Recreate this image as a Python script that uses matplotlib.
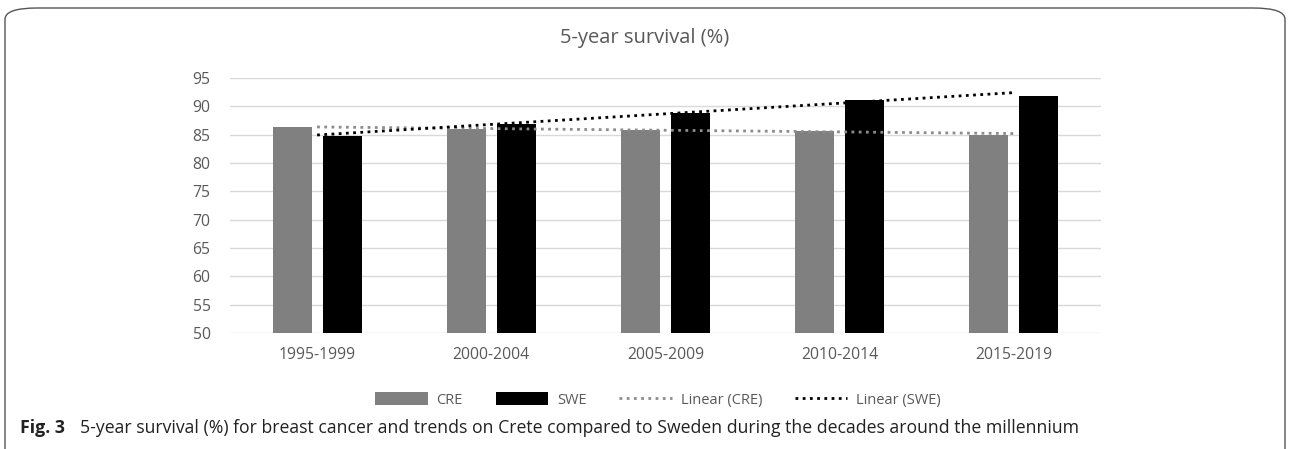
import numpy as np
import matplotlib
matplotlib.use("Agg")
import matplotlib.pyplot as plt
from matplotlib.patches import FancyBboxPatch
from matplotlib.lines import Line2D
from matplotlib.patches import Patch

categories = ["1995-1999", "2000-2004", "2005-2009", "2010-2014", "2015-2019"]
cre = [86.3, 86.0, 85.9, 85.7, 85.0]
swe = [84.7, 86.8, 88.9, 91.1, 91.9]
yticks = [50, 55, 60, 65, 70, 75, 80, 85, 90, 95]

plt.rcParams['font.family'] = ['Open Sans', 'DejaVu Sans']

fig = plt.figure(figsize=(12.9, 4.49), dpi=100)
ax = fig.add_axes([230/1290, 1-333/449, 871/1290, 255/449])

x = np.arange(len(categories))
w = 0.224
off = 0.1435
ax.bar(x - off, cre, w, color="#808080", zorder=3, label="CRE")
ax.bar(x + off, swe, w, color="#000000", zorder=3, label="SWE")

# linear trend lines
pc = np.polyfit(x, cre, 1)
ps = np.polyfit(x, swe, 1)
ax.plot(x, np.polyval(pc, x), color="#8c8c8c", lw=2, ls=(0, (1, 1.6)), zorder=4)
ax.plot(x, np.polyval(ps, x), color="#000000", lw=2, ls=(0, (1, 1.6)), zorder=4)

ax.set_ylim(50, 95)
ax.set_xlim(-0.5, 4.5)
ax.set_yticks(yticks)
ax.set_xticks(x)
ax.set_xticklabels(categories)
ax.yaxis.grid(True, color="#d9d9d9", lw=1, zorder=0)
for s in ax.spines.values():
    s.set_visible(False)
ax.tick_params(axis="both", length=0, labelsize=11.3, colors="#595959")
ax.tick_params(axis="y", pad=14)
ax.tick_params(axis="x", pad=10)

fig.text(0.5, 1-38/449, "5-year survival (%)", ha="center", va="center",
         fontsize=14.5, color="#595959")

handles = [
    Patch(facecolor="#808080", label="CRE"),
    Patch(facecolor="#000000", label="SWE"),
    Line2D([], [], color="#8c8c8c", lw=2, ls=(0, (1, 1.6)), label="Linear (CRE)"),
    Line2D([], [], color="#000000", lw=2, ls=(0, (1, 1.6)), label="Linear (SWE)"),
]
leg = fig.legend(handles=handles, loc="center", bbox_to_anchor=(658/1290, 1-400/449),
                 ncol=4, frameon=False, fontsize=10.5, handlelength=3.6,
                 handleheight=0.9, columnspacing=2.25, handletextpad=0.6)
for t in leg.get_texts():
    t.set_color("#595959")

# outer rounded border
box = FancyBboxPatch((5/1290, -0.05), 1280/1290, 1.05 - 8/449,
                     boxstyle="round,pad=0,rounding_size=0.025",
                     transform=fig.transFigure, fill=False,
                     edgecolor="#555555", lw=1)
fig.patches.append(box)

fig.text(20/1290, 1-428/449, "Fig. 3", fontweight="bold", fontsize=12.8,
         ha="left", va="center", color="#222222")
fig.text(80/1290, 1-428/449,
         "5-year survival (%) for breast cancer and trends on Crete compared to Sweden during the decades around the millennium",
         fontsize=12.7, ha="left", va="center", color="#222222")

fig.savefig("out.png", dpi=100)
